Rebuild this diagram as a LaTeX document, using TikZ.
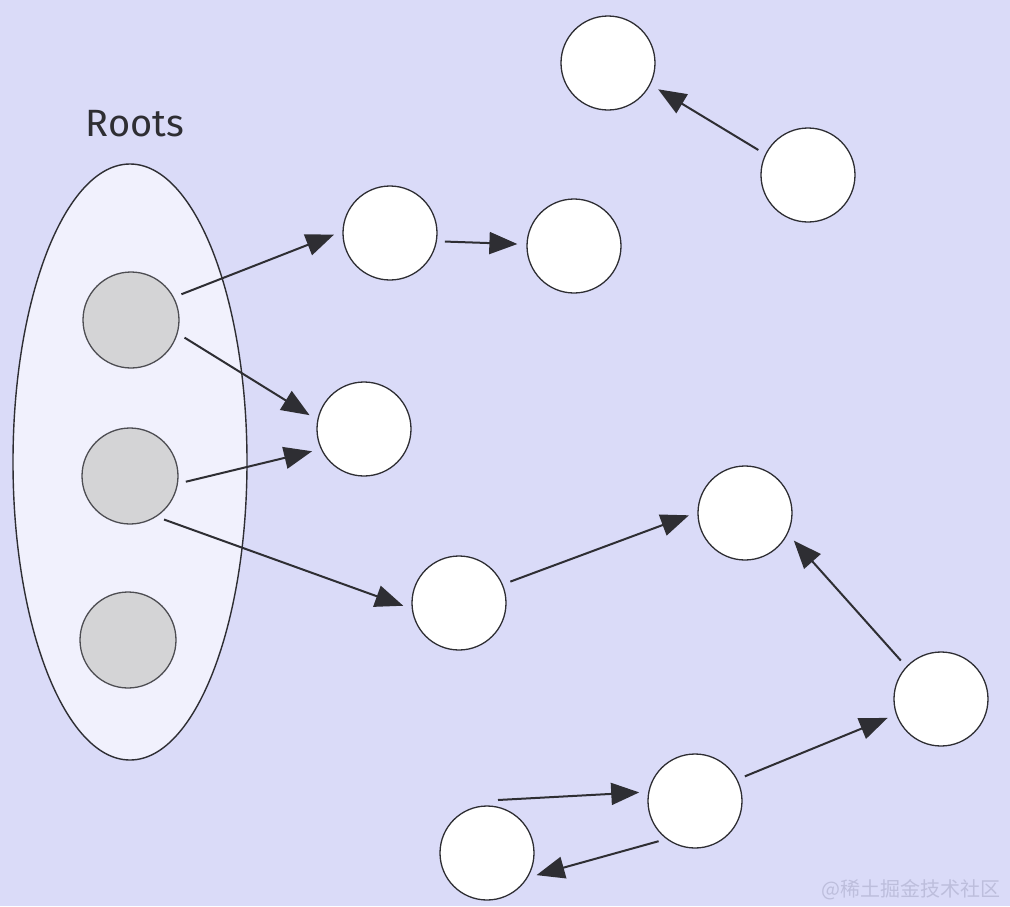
\documentclass[tikz,border=0pt]{standalone}
\usepackage{fontspec}
\setsansfont{Fira Sans}
\newfontfamily\cjk{Noto Sans CJK SC}
\usepackage{tikz}
\usetikzlibrary{arrows.meta,shapes.geometric}
\definecolor{canvas}{HTML}{DADBF8}
\definecolor{ink}{HTML}{2E2E33}
\definecolor{setfill}{HTML}{F1F1FD}
\definecolor{rootgray}{HTML}{D4D4D6}
\definecolor{mark}{HTML}{BDBEDC}
\tikzset{
  objnode/.style={
    circle,draw=ink,fill=white,
    line width=1.3pt,minimum size=94pt,inner sep=0pt
  },
  rootnode/.style={
    circle,draw=ink!85,fill=rootgray,
    line width=1.3pt,minimum size=96pt,inner sep=0pt
  },
  rootset/.style={
    ellipse,draw=ink,fill=setfill,
    line width=1.4pt,minimum width=234pt,minimum height=596pt,inner sep=0pt
  },
  arrow/.style={-{Triangle[length=28pt,width=22pt]},draw=ink,line width=2pt,
    shorten <=8pt,shorten >=9pt}
}
\begin{document}
\begin{tikzpicture}[x=1pt,y=-1pt]
\fill[canvas] (0,0) rectangle (1010,906);
\useasboundingbox (0,0) rectangle (1010,906);

\node[font=\sffamily\fontsize{38}{42}\selectfont,text=ink] (label) at (135,124) {Roots};
\node[rootset] (roots) at (130,462) {};

\node[rootnode] (r1) at (131,320) {};
\node[rootnode] (r2) at (130,476) {};
\node[rootnode] (r3) at (128,640) {};

\node[objnode] (a) at (608,63) {};
\node[objnode] (b) at (808,175) {};
\node[objnode] (c) at (390,233) {};
\node[objnode] (d) at (574,246) {};
\node[objnode] (e) at (364,429) {};
\node[objnode] (f) at (745,513) {};
\node[objnode] (g) at (459,603) {};
\node[objnode] (h) at (941,699) {};
\node[objnode] (i) at (695,801) {};
\node[objnode] (j) at (487,853) {};
\coordinate (free) at (498,800);

\draw[arrow] (b.154) -- (a.-27);
\draw[arrow] (r1.28) -- (c.178);
\draw[arrow] (c.-10) -- (d.178);
\draw[arrow] (r1.-16) -- (e.169);
\draw[arrow] (r2.-9) -- (e.-155);
\draw[arrow] (r2.-57) -- (g.-173);
\draw[arrow] (g.23) -- (f.179);
\draw[arrow] (h.137) -- (f.-26);
\draw[arrow,shorten <=0pt] (free) -- (i.169);
\draw[arrow] (i.27) -- (h.-161);
\draw[arrow] (i.-127) -- (j.-31);

\node[font=\cjk\fontsize{20}{22}\selectfont,text=mark,anchor=east,inner sep=1pt] (credit) at (1002,890) {@稀土掘金技术社区};
\end{tikzpicture}
\end{document}
